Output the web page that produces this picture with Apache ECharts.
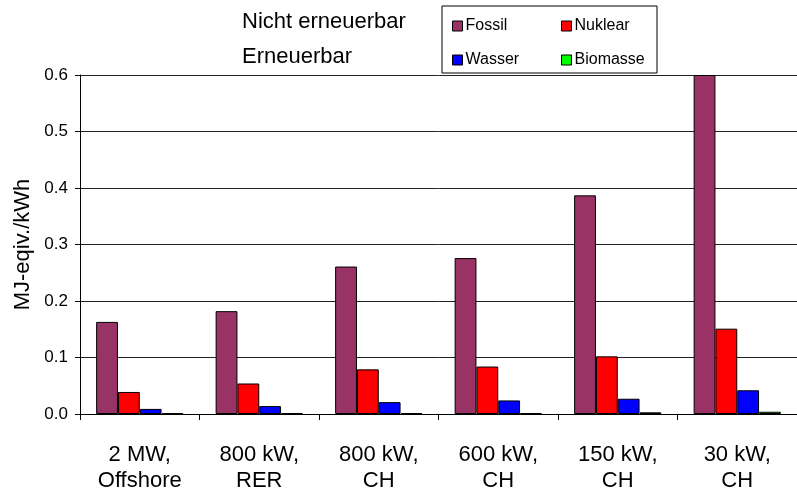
<!DOCTYPE html>
<html>
<head>
<meta charset="utf-8">
<script src="https://cdn.jsdelivr.net/npm/echarts@6/dist/echarts.min.js"></script>
<style>html,body{margin:0;padding:0;background:#fff;}#c{width:797px;height:496px;}</style>
</head>
<body>
<div id="c"></div>
<script>
var categories = ["2 MW, Offshore", "800 kW, RER", "800 kW, CH", "600 kW, CH", "150 kW, CH", "30 kW, CH"];
var fossil   = [0.163, 0.182, 0.261, 0.276, 0.387, 0.600];
var nuklear  = [0.039, 0.054, 0.079, 0.084, 0.102, 0.151];
var wasser   = [0.009, 0.014, 0.021, 0.024, 0.027, 0.042];
var biomasse = [0.001, 0.0015, 0.0015, 0.0015, 0.003, 0.004];
var yTicks = ["0.0", "0.1", "0.2", "0.3", "0.4", "0.5", "0.6"];
var yAxisTitle = "MJ-eqiv./kWh";
var groupNonRenew = "Nicht erneuerbar";
var groupRenew = "Erneuerbar";

var FONT = "'Liberation Sans', Arial, sans-serif";
var chart = echarts.init(document.getElementById('c'));

function barSeries(name, data, color) {
  return {
    name: name, type: 'bar', data: data,
    barGap: '0%', barCategoryGap: '27%',
    itemStyle: { color: color, borderColor: '#000', borderWidth: 1 },
    emphasis: { disabled: true }
  };
}

chart.setOption({
  animation: false,
  backgroundColor: '#fff',
  textStyle: { fontFamily: FONT },
  grid: { left: 80, right: -9, top: 75, bottom: 82, containLabel: false },
  legend: [
    {
      data: ['Fossil', 'Wasser'], orient: 'vertical', left: 452, top: 18, padding: 0,
      itemWidth: 10, itemHeight: 10, itemGap: 18,
      icon: 'rect', selectedMode: false,
      itemStyle: { borderColor: '#000', borderWidth: 1 },
      textStyle: { fontFamily: FONT, fontSize: 16, color: '#000', lineHeight: 16, padding: [0, 0, 0, -2] }
    },
    {
      data: ['Nuklear', 'Biomasse'], orient: 'vertical', left: 561, top: 18, padding: 0,
      itemWidth: 10, itemHeight: 10, itemGap: 18,
      icon: 'rect', selectedMode: false,
      itemStyle: { borderColor: '#000', borderWidth: 1 },
      textStyle: { fontFamily: FONT, fontSize: 16, color: '#000', lineHeight: 16, padding: [0, 0, 0, -2] }
    }
  ],
  graphic: [
    { type: 'rect', z: 0, shape: { x: 442, y: 6, width: 215, height: 67 },
      style: { fill: '#fff', stroke: '#000', lineWidth: 1 } },
    { type: 'text', x: 242, y: 22, style: { text: groupNonRenew, font: '22px ' + FONT, fill: '#000', textVerticalAlign: 'middle' } },
    { type: 'text', x: 242, y: 57, style: { text: groupRenew, font: '22px ' + FONT, fill: '#000', textVerticalAlign: 'middle' } }
  ],
  xAxis: {
    type: 'category', data: categories,
    axisLine: { lineStyle: { color: '#000', width: 1 } },
    axisTick: { show: true, length: 6, alignWithLabel: false, lineStyle: { color: '#000' } },
    axisLabel: {
      interval: 0, margin: 28, color: '#000', fontSize: 22, lineHeight: 26, fontFamily: FONT,
      formatter: function (v) { return v.replace(', ', ',\n'); }
    }
  },
  yAxis: {
    type: 'value', min: 0, max: 0.6, interval: 0.1,
    name: yAxisTitle, nameLocation: 'middle', nameGap: 46, nameRotate: 90,
    nameTextStyle: { fontSize: 22, color: '#000', fontFamily: FONT },
    axisLine: { show: true, lineStyle: { color: '#000', width: 1 } },
    axisTick: { show: true, length: 5, lineStyle: { color: '#000' } },
    axisLabel: {
      margin: 12, color: '#000', fontSize: 17, fontFamily: FONT,
      formatter: function (v) { return yTicks[Math.round(v * 10)]; }
    },
    splitLine: { show: true, lineStyle: { color: '#222', width: 1 } }
  },
  series: [
    barSeries('Fossil', fossil, '#993366'),
    barSeries('Nuklear', nuklear, '#ff0000'),
    barSeries('Wasser', wasser, '#0000ff'),
    barSeries('Biomasse', biomasse, '#00ff00')
  ]
});
</script>
</body>
</html>
